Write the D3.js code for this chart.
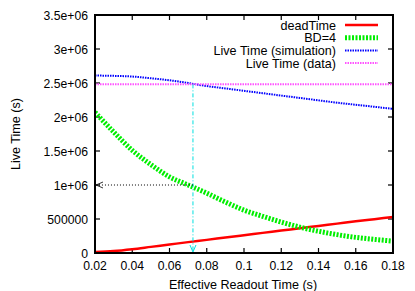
<!DOCTYPE html>
<head>
  <meta charset="utf-8">
  <script src="https://cdn.jsdelivr.net/npm/d3@7"></script>
  <style>
    body { font-family: "Liberation Sans", Arial; margin:0; background:#fff; }
    text { font-family: "Liberation Sans", Arial; font-size: 12.6px; fill: #000; }
    text.tick { font-size: 12.2px; }
  </style>
</head>
<body>
  <script>
    var width = 415,
        height = 291;

    // readout time (s)
    var readout = [0.02, 0.03, 0.04, 0.05, 0.06, 0.07, 0.08, 0.09, 0.10, 0.11, 0.12, 0.13, 0.14, 0.15, 0.16, 0.17, 0.18];
    var deadTime = [15000, 28000, 55000, 90000, 125000, 160000, 193000, 228000, 262000, 296000, 330000, 364000, 398000, 432000, 466000, 498000, 530000];
    var bd4 = [2070000, 1780000, 1510000, 1300000, 1120000, 1000000, 880000, 750000, 630000, 540000, 455000, 380000, 320000, 270000, 230000, 200000, 175000];
    var liveSim = [2610000, 2605000, 2595000, 2570000, 2540000, 2500000, 2455000, 2420000, 2385000, 2350000, 2315000, 2280000, 2245000, 2210000, 2180000, 2150000, 2120000];
    var liveData = [2480000, 2480000];
    var liveDataX = [0.02, 0.18];
    var markX = 0.0726, markY = 1000000;

    var xTicks = [0.02, 0.04, 0.06, 0.08, 0.1, 0.12, 0.14, 0.16, 0.18];
    var yTicks = [0, 500000, 1000000, 1500000, 2000000, 2500000, 3000000, 3500000];
    var yLabels = ["0", "500000", "1e+06", "1.5e+06", "2e+06", "2.5e+06", "3e+06", "3.5e+06"];

    var pl = 95, pr = 393, pt = 15, pb = 253;

    var svg = d3.select("body").append("svg")
      .attr("width", width).attr("height", height);

    var x = d3.scaleLinear().domain([0.02, 0.18]).range([pl, pr]);
    var y = d3.scaleLinear().domain([0, 3500000]).range([pb, pt]);

    var defs = svg.append("defs");
    defs.append("clipPath").attr("id", "clip").append("rect")
      .attr("x", pl).attr("y", pt).attr("width", pr - pl).attr("height", pb - pt);

    // ticks on all four sides, inward
    var tk = svg.append("g").attr("stroke", "#000").attr("stroke-width", 1.2);
    xTicks.forEach(function(t) {
      tk.append("line").attr("x1", x(t)).attr("x2", x(t)).attr("y1", pb).attr("y2", pb - 5);
      tk.append("line").attr("x1", x(t)).attr("x2", x(t)).attr("y1", pt).attr("y2", pt + 5);
    });
    yTicks.forEach(function(t) {
      tk.append("line").attr("x1", pl).attr("x2", pl + 5).attr("y1", y(t)).attr("y2", y(t));
      tk.append("line").attr("x1", pr).attr("x2", pr - 5).attr("y1", y(t)).attr("y2", y(t));
    });

    svg.selectAll(".xl").data(xTicks).enter().append("text").attr("class", "tick")
      .attr("x", function(d) { return x(d); }).attr("y", pb + 17)
      .attr("text-anchor", "middle").text(function(d) { return d3.format(".2~f")(d); });
    svg.selectAll(".yl").data(yTicks).enter().append("text").attr("class", "tick")
      .attr("x", pl - 7).attr("y", function(d) { return y(d) + 4.5; })
      .attr("text-anchor", "end").text(function(d, i) { return yLabels[i]; });

    svg.append("text").attr("x", (pl + pr) / 2 - 1).attr("y", 288.5)
      .attr("text-anchor", "middle").text("Effective Readout Time (s)");
    svg.append("text").attr("transform", "translate(20," + ((pt + pb) / 2) + ") rotate(-90)")
      .attr("text-anchor", "middle").text("Live Time (s)");

    var plot = svg.append("g").attr("clip-path", "url(#clip)");
    var line = function(ys, xs) {
      return d3.line().curve(d3.curveMonotoneX)
        .x(function(d, i) { return x(xs[i]); })
        .y(function(d) { return y(d); })(ys);
    };

    // guide lines
    svg.append("line").attr("x1", x(markX)).attr("x2", x(markX))
      .attr("y1", y(2480000)).attr("y2", pb - 2)
      .attr("stroke", "#00e0e0").attr("stroke-width", 1).attr("stroke-dasharray", "4,2,1,2");
    svg.append("path").attr("d", "M" + (x(markX) - 3) + "," + (pb - 8) + "L" + x(markX) + "," + (pb - 1) + "L" + (x(markX) + 3) + "," + (pb - 8))
      .attr("fill", "none").attr("stroke", "#00e0e0");
    svg.append("line").attr("x1", x(markX)).attr("x2", pl + 2)
      .attr("y1", y(markY)).attr("y2", y(markY))
      .attr("stroke", "#000").attr("stroke-width", 1).attr("stroke-dasharray", "1,2");
    svg.append("path").attr("d", "M" + (pl + 8) + "," + (y(markY) - 3) + "L" + (pl + 1) + "," + y(markY) + "L" + (pl + 8) + "," + (y(markY) + 3))
      .attr("fill", "none").attr("stroke", "#000").attr("stroke-width", 0.8);

    var series = [
      { name: "deadTime", ys: deadTime, xs: readout, color: "#ff0000", w: 2.5, dash: null },
      { name: "BD=4", ys: bd4, xs: readout, color: "#00ee00", w: 5, dash: "2,1.5" },
      { name: "Live Time (simulation)", ys: liveSim, xs: readout, color: "#0000ff", w: 2, dash: "1.5,1" },
      { name: "Live Time (data)", ys: liveData, xs: liveDataX, color: "#ff55ff", w: 2, dash: "1.5,1" }
    ];

    series.forEach(function(s) {
      plot.append("path").attr("d", line(s.ys, s.xs))
        .attr("fill", "none").attr("stroke", s.color).attr("stroke-width", s.w)
        .attr("stroke-dasharray", s.dash);
    });

    // legend
    series.forEach(function(s, i) {
      var ly = 25 + i * 12.7;
      svg.append("text").attr("x", 336).attr("y", ly + 4.5).attr("text-anchor", "end").text(s.name);
      svg.append("line").attr("x1", 345).attr("x2", 378).attr("y1", ly).attr("y2", ly)
        .attr("stroke", s.color).attr("stroke-width", s.w).attr("stroke-dasharray", s.dash);
    });

    svg.append("rect").attr("x", pl).attr("y", pt).attr("width", pr - pl).attr("height", pb - pt)
      .attr("fill", "none").attr("stroke", "#000").attr("stroke-width", 2);
  </script>
</body>
